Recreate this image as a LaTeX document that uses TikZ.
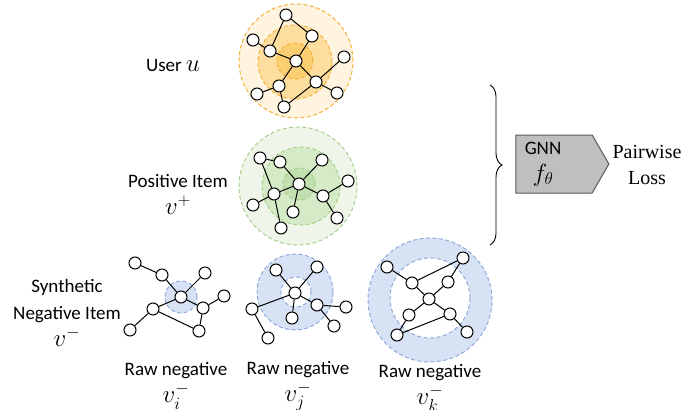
\documentclass[tikz,border=0pt]{standalone}
\usepackage{fontspec}
\setmainfont{Carlito}
\newfontfamily\lossfont{Liberation Serif}
\usetikzlibrary{shapes.symbols,decorations.pathreplacing}
\definecolor{userring}{HTML}{F3B33D}
\definecolor{userouter}{HTML}{FFF4E0}
\definecolor{usermid}{HTML}{FEDE9E}
\definecolor{userinner}{HTML}{FCCE72}
\definecolor{posring}{HTML}{A9D18E}
\definecolor{posouter}{HTML}{EFF6E9}
\definecolor{posmid}{HTML}{D5EAC7}
\definecolor{posinner}{HTML}{C2E0AF}
\definecolor{negring}{HTML}{8FAADC}
\definecolor{negfill}{HTML}{D7E3F4}
\definecolor{gnngray}{HTML}{BFBFBF}
\definecolor{gnnedge}{HTML}{595959}
\newcommand{\bigmath}[1]{{\fontsize{23}{27}\selectfont$#1$}}

\tikzset{
  vtx/.style={circle, draw, fill=white, line width=1pt, minimum size=12pt, inner sep=0pt},
  edge/.style={line width=1pt},
  ring/.style={dash pattern=on 4pt off 2.5pt, line width=1pt},
  lbl/.style={align=center, font=\fontsize{19}{27}\selectfont},
}

\begin{document}
\begin{tikzpicture}[x=1pt,y=-1pt]
\useasboundingbox (0,0) rectangle (700,409);

\filldraw[ring, fill=userouter, draw=userring] (296,61) circle (57pt);
\filldraw[ring, fill=usermid, draw=userring] (295,62) circle (37pt);
\filldraw[ring, fill=userinner, draw=userring] (295,61) circle (18pt);

\filldraw[ring, fill=posouter, draw=posring] (298,186) circle (59pt);
\filldraw[ring, fill=posmid, draw=posring] (301,186) circle (39pt);
\filldraw[ring, fill=posinner, draw=posring] (299,184) circle (16pt);

\filldraw[ring, fill=negfill, draw=negring] (181,297) circle (16pt);

\filldraw[ring, fill=negfill, draw=negring] (295,292) circle (38pt);
\filldraw[ring, fill=white, draw=negring] (296,292) circle (15pt);

\filldraw[ring, fill=negfill, draw=negring] (430,300) circle (62pt);
\filldraw[ring, fill=white, draw=negring] (430,298) circle (40pt);

\node[vtx] (u0) at (296,61) {};
\node[vtx] (u1) at (286,15) {};
\node[vtx] (u2) at (312,36) {};
\node[vtx] (u3) at (253,40) {};
\node[vtx] (u4) at (270,51) {};
\node[vtx] (u5) at (344,57) {};
\node[vtx] (u6) at (316,82) {};
\node[vtx] (u7) at (337,93) {};
\node[vtx] (u8) at (279,86) {};
\node[vtx] (u9) at (257,94) {};
\node[vtx] (u10) at (284,107) {};
\draw[edge] (u1) -- (u2) (u1) -- (u4) (u3) -- (u4) (u4) -- (u0) (u2) -- (u0)
  (u0) -- (u6) (u0) -- (u8) (u5) -- (u6) (u6) -- (u7) (u6) -- (u10)
  (u8) -- (u9) (u8) -- (u10);

\node[vtx] (p0) at (299,184) {};
\node[vtx] (p1) at (260,158) {};
\node[vtx] (p2) at (280,162) {};
\node[vtx] (p3) at (322,160) {};
\node[vtx] (p4) at (274,194) {};
\node[vtx] (p5) at (253,205) {};
\node[vtx] (p6) at (293,212) {};
\node[vtx] (p7) at (323,196) {};
\node[vtx] (p8) at (348,181) {};
\node[vtx] (p9) at (337,218) {};
\node[vtx] (p10) at (281,228) {};
\draw[edge] (p1) -- (p2) (p2) -- (p0) (p1) -- (p4) (p4) -- (p10) (p4) -- (p5)
  (p4) -- (p0) (p0) -- (p3) (p0) -- (p6) (p0) -- (p7) (p7) -- (p8) (p7) -- (p9);

\node[vtx] (s0) at (181,297) {};
\node[vtx] (s1) at (135,263) {};
\node[vtx] (s2) at (162,275) {};
\node[vtx] (s3) at (205,273) {};
\node[vtx] (s4) at (153,309) {};
\node[vtx] (s5) at (130,330) {};
\node[vtx] (s6) at (203,308) {};
\node[vtx] (s7) at (199,331) {};
\node[vtx] (s8) at (224,296) {};
\draw[edge] (s1) -- (s2) (s2) -- (s0) (s0) -- (s3) (s0) -- (s4) (s0) -- (s6)
  (s4) -- (s5) (s4) -- (s7) (s6) -- (s7) (s6) -- (s8);

\node[vtx] (j0) at (295,293) {};
\node[vtx] (j1) at (276,270) {};
\node[vtx] (j2) at (317,267) {};
\node[vtx] (j3) at (252,309) {};
\node[vtx] (j4) at (292,318) {};
\node[vtx] (j5) at (317,305) {};
\node[vtx] (j6) at (346,307) {};
\node[vtx] (j7) at (334,326) {};
\node[vtx] (j8) at (268,338) {};
\draw[edge] (j0) -- (j1) (j0) -- (j2) (j0) -- (j3) (j0) -- (j4) (j0) -- (j5)
  (j3) -- (j8) (j5) -- (j6) (j5) -- (j7);

\node[vtx] (k0) at (429,299) {};
\node[vtx] (k1) at (387,267) {};
\node[vtx] (k2) at (412,283) {};
\node[vtx] (k3) at (463,258) {};
\node[vtx] (k4) at (448,282) {};
\node[vtx] (k5) at (409,315) {};
\node[vtx] (k6) at (450,314) {};
\node[vtx] (k7) at (397,335) {};
\node[vtx] (k8) at (467,332) {};
\draw[edge] (k1) -- (k2) (k2) -- (k3) (k3) -- (k4) (k4) -- (k0) (k2) -- (k0)
  (k0) -- (k5) (k0) -- (k6) (k5) -- (k7) (k7) -- (k6) (k6) -- (k8);

\node[lbl] (userlbl) at (173,65) {User \bigmath{u}};
\node[lbl] (poslbl) at (178,194) {Positive Item\\\bigmath{v^{+}}};
\node[lbl] (synlbl) at (67,313) {Synthetic\\Negative Item\\\bigmath{v^{-}}};
\node[lbl] (rawi) at (176,386) {Raw negative\\\bigmath{v_i^{-}}};
\node[lbl] (rawj) at (298,386) {Raw negative\\\bigmath{v_j^{-}}};
\node[lbl] (rawk) at (430,388) {Raw negative\\\bigmath{v_k^{-}}};

\coordinate (btop) at (490,85);
\coordinate (bbot) at (490,245);
\draw[decorate, decoration={brace, amplitude=12pt}, line width=0.9pt] (btop) -- (bbot);

\node[signal, signal to=east, signal pointer angle=120, minimum width=93pt, minimum height=58pt,
  fill=gnngray, draw=gnnedge, line width=1pt] (gnn) at (554,164) {};
\node[lbl] (gnnlbl) at (543,164) {GNN\\\bigmath{f_\theta}};
\node[align=center, font=\fontsize{20}{26}\selectfont\lossfont] (loss) at (647,165) {Pairwise\\Loss};
\end{tikzpicture}
\end{document}
